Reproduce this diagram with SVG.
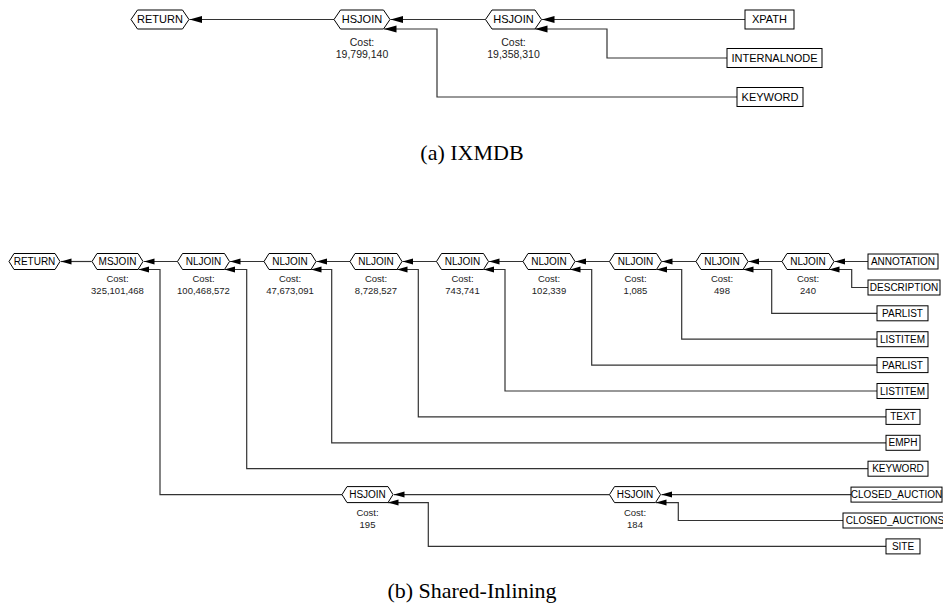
<svg xmlns="http://www.w3.org/2000/svg" width="943" height="604" viewBox="0 0 943 604">
<style>
.hex{fill:#fff;stroke:#000;stroke-width:1}
.box{fill:#fff;stroke:#000;stroke-width:1}
.lt{font-family:"Liberation Sans",Arial,sans-serif;font-size:11px;fill:#000;text-anchor:middle}
.lb{font-family:"Liberation Sans",Arial,sans-serif;font-size:10px;fill:#000;text-anchor:middle}
.ct{font-family:"Liberation Sans",Arial,sans-serif;font-size:10.5px;fill:#222;text-anchor:middle}
.cb{font-family:"Liberation Sans",Arial,sans-serif;font-size:9.5px;fill:#222;text-anchor:middle}
.cap{font-family:"Liberation Serif","Times New Roman",serif;font-size:22px;fill:#000;text-anchor:middle}
.ea{fill:none;stroke:#333;stroke-width:1.2;marker-end:url(#arrT)}
.eb{fill:none;stroke:#333;stroke-width:1.2;marker-end:url(#arrB)}
</style>
<defs>
<marker id="arrT" markerUnits="userSpaceOnUse" markerWidth="13" markerHeight="8" refX="12.5" refY="4" orient="auto"><path d="M0,0.5 L12.5,4 L0,7.5 z" fill="#000"/></marker>
<marker id="arrB" markerUnits="userSpaceOnUse" markerWidth="11" markerHeight="7" refX="10.5" refY="3.5" orient="auto"><path d="M0,0.5 L10.5,3.5 L0,6.5 z" fill="#000"/></marker>
</defs>

<g id="connectors">
<!-- top -->
<path class="ea" d="M334,19.5 H189.5"/>
<path class="ea" d="M485.5,19.5 H390.5"/>
<path class="ea" d="M745,19.5 H542"/>
<path class="ea" d="M727,58 H607 V29 H535"/>
<path class="ea" d="M737,97 H437 V29 H384"/>
<!-- bottom main chain -->
<path class="eb" d="M91.5,261.5 H61"/>
<path class="eb" d="M177.5,261.5 H144"/>
<path class="eb" d="M264,261.5 H230"/>
<path class="eb" d="M350,261.5 H316.5"/>
<path class="eb" d="M436.5,261.5 H402.5"/>
<path class="eb" d="M523,261.5 H489"/>
<path class="eb" d="M609.5,261.5 H575.5"/>
<path class="eb" d="M696,261.5 H662"/>
<path class="eb" d="M782,261.5 H748.5"/>
<path class="eb" d="M868,261.5 H834.5"/>
<!-- bottom side inputs -->
<path class="eb" d="M868,287.5 H851.7 V269.5 H829"/>
<path class="eb" d="M877,313.3 H771.7 V269.5 H743"/>
<path class="eb" d="M877,339.2 H681.7 V269.5 H656.5"/>
<path class="eb" d="M877,365.1 H591.7 V269.5 H570"/>
<path class="eb" d="M877,391 H505 V269.5 H483.5"/>
<path class="eb" d="M886,416.9 H418.3 V269.5 H397"/>
<path class="eb" d="M886,442.8 H331.7 V269.5 H311"/>
<path class="eb" d="M868,468.7 H246.7 V269.5 H224.5"/>
<path class="eb" d="M342,494.6 H160 V269.5 H138.5"/>
<path class="eb" d="M609.5,494.6 H394"/>
<path class="eb" d="M851,494.6 H661.5"/>
<path class="eb" d="M843,520.5 H678.3 V502.6 H656"/>
<path class="eb" d="M886,546.4 H428.3 V502.6 H388"/>
</g>

<!-- top nodes -->
<g id="a_return"><polygon class="hex" points="131,19.5 137.5,10 182.5,10 189,19.5 182.5,29 137.5,29"/><text class="lt" x="160" y="23.4">RETURN</text></g>
<g id="a_hsjoin1"><polygon class="hex" points="334,19.5 340.5,10 383.5,10 390,19.5 383.5,29 340.5,29"/><text class="lt" x="362" y="23.4">HSJOIN</text><text class="ct" x="362" y="45.5">Cost:</text><text class="ct" x="362" y="58">19,799,140</text></g>
<g id="a_hsjoin2"><polygon class="hex" points="485.5,19.5 492,10 535,10 541.5,19.5 535,29 492,29"/><text class="lt" x="513.5" y="23.4">HSJOIN</text><text class="ct" x="513.5" y="45.5">Cost:</text><text class="ct" x="513.5" y="58">19,358,310</text></g>
<g id="a_xpath"><rect class="box" x="745" y="10" width="49" height="19"/><text class="lt" x="769.5" y="23.4">XPATH</text></g>
<g id="a_internalnode"><rect class="box" x="727" y="48.5" width="95" height="19"/><text class="lt" x="774.5" y="61.9">INTERNALNODE</text></g>
<g id="a_keyword"><rect class="box" x="737" y="87.5" width="66" height="19"/><text class="lt" x="770" y="100.9">KEYWORD</text></g>
<text class="cap" x="472" y="160">(a) IXMDB</text>

<!-- bottom nodes -->
<g id="b_return"><polygon class="hex" points="9,261.5 14,253.5 55,253.5 60,261.5 55,269.5 14,269.5"/><text class="lb" x="34.5" y="265">RETURN</text></g>
<g id="b_msjoin"><polygon class="hex" points="92,261.5 97,253.5 138,253.5 143,261.5 138,269.5 97,269.5"/><text class="lb" x="117.5" y="265">MSJOIN</text><text class="cb" x="117.5" y="282">Cost:</text><text class="cb" x="117.5" y="294">325,101,468</text></g>
<g id="b_nl1"><polygon class="hex" points="177.5,261.5 182.5,253.5 224.5,253.5 229.5,261.5 224.5,269.5 182.5,269.5"/><text class="lb" x="203.5" y="265">NLJOIN</text><text class="cb" x="203.5" y="282">Cost:</text><text class="cb" x="203.5" y="294">100,468,572</text></g>
<g id="b_nl2"><polygon class="hex" points="264,261.5 269,253.5 311,253.5 316,261.5 311,269.5 269,269.5"/><text class="lb" x="290" y="265">NLJOIN</text><text class="cb" x="290" y="282">Cost:</text><text class="cb" x="290" y="294">47,673,091</text></g>
<g id="b_nl3"><polygon class="hex" points="350,261.5 355,253.5 397,253.5 402,261.5 397,269.5 355,269.5"/><text class="lb" x="376" y="265">NLJOIN</text><text class="cb" x="376" y="282">Cost:</text><text class="cb" x="376" y="294">8,728,527</text></g>
<g id="b_nl4"><polygon class="hex" points="436.5,261.5 441.5,253.5 483.5,253.5 488.5,261.5 483.5,269.5 441.5,269.5"/><text class="lb" x="462.5" y="265">NLJOIN</text><text class="cb" x="462.5" y="282">Cost:</text><text class="cb" x="462.5" y="294">743,741</text></g>
<g id="b_nl5"><polygon class="hex" points="523,261.5 528,253.5 570,253.5 575,261.5 570,269.5 528,269.5"/><text class="lb" x="549" y="265">NLJOIN</text><text class="cb" x="549" y="282">Cost:</text><text class="cb" x="549" y="294">102,339</text></g>
<g id="b_nl6"><polygon class="hex" points="609.5,261.5 614.5,253.5 656.5,253.5 661.5,261.5 656.5,269.5 614.5,269.5"/><text class="lb" x="635.5" y="265">NLJOIN</text><text class="cb" x="635.5" y="282">Cost:</text><text class="cb" x="635.5" y="294">1,085</text></g>
<g id="b_nl7"><polygon class="hex" points="696,261.5 701,253.5 743,253.5 748,261.5 743,269.5 701,269.5"/><text class="lb" x="722" y="265">NLJOIN</text><text class="cb" x="722" y="282">Cost:</text><text class="cb" x="722" y="294">498</text></g>
<g id="b_nl8"><polygon class="hex" points="782,261.5 787,253.5 829,253.5 834,261.5 829,269.5 787,269.5"/><text class="lb" x="808" y="265">NLJOIN</text><text class="cb" x="808" y="282">Cost:</text><text class="cb" x="808" y="294">240</text></g>
<g id="b_hs1"><polygon class="hex" points="342,494.6 347,486.6 388,486.6 393,494.6 388,502.6 347,502.6"/><text class="lb" x="367.5" y="498.1">HSJOIN</text><text class="cb" x="367.5" y="516">Cost:</text><text class="cb" x="367.5" y="528">195</text></g>
<g id="b_hs2"><polygon class="hex" points="609.5,494.6 614.5,486.6 655.5,486.6 660.5,494.6 655.5,502.6 614.5,502.6"/><text class="lb" x="635" y="498.1">HSJOIN</text><text class="cb" x="635" y="516">Cost:</text><text class="cb" x="635" y="528">184</text></g>

<g id="b_annotation"><rect class="box" x="868" y="254" width="70" height="15"/><text class="lb" x="903" y="265">ANNOTATION</text></g>
<g id="b_description"><rect class="box" x="868" y="280" width="72" height="15"/><text class="lb" x="904" y="291">DESCRIPTION</text></g>
<g id="b_parlist1"><rect class="box" x="877" y="305.8" width="51" height="15"/><text class="lb" x="902.5" y="316.8">PARLIST</text></g>
<g id="b_listitem1"><rect class="box" x="877" y="331.7" width="51" height="15"/><text class="lb" x="902.5" y="342.7">LISTITEM</text></g>
<g id="b_parlist2"><rect class="box" x="877" y="357.6" width="51" height="15"/><text class="lb" x="902.5" y="368.6">PARLIST</text></g>
<g id="b_listitem2"><rect class="box" x="877" y="383.5" width="51" height="15"/><text class="lb" x="902.5" y="394.5">LISTITEM</text></g>
<g id="b_text"><rect class="box" x="886" y="409.4" width="34" height="15"/><text class="lb" x="903" y="420.4">TEXT</text></g>
<g id="b_emph"><rect class="box" x="886" y="435.3" width="34" height="15"/><text class="lb" x="903" y="446.3">EMPH</text></g>
<g id="b_keyword"><rect class="box" x="868" y="461.2" width="60" height="15"/><text class="lb" x="898" y="472.2">KEYWORD</text></g>
<g id="b_closed_auction"><rect class="box" x="851" y="487.1" width="91" height="15"/><text class="lb" x="896.5" y="498.1">CLOSED_AUCTION</text></g>
<g id="b_closed_auctions"><rect class="box" x="843" y="513" width="104" height="15"/><text class="lb" x="895" y="524">CLOSED_AUCTIONS</text></g>
<g id="b_site"><rect class="box" x="886" y="538.9" width="34" height="15"/><text class="lb" x="903" y="549.9">SITE</text></g>
<text class="cap" x="472" y="598">(b) Shared-Inlining</text>
</svg>
